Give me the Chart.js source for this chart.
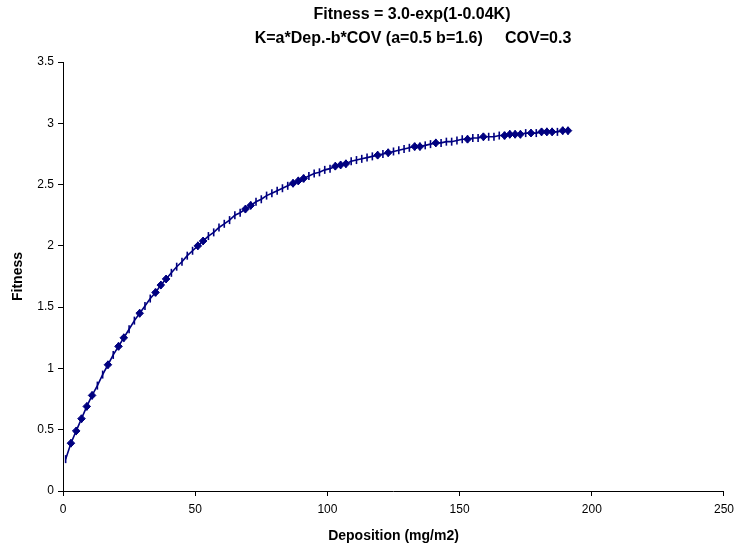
<!DOCTYPE html>
<html>
<head>
<meta charset="utf-8">
<script src="https://cdn.jsdelivr.net/npm/chart.js@4.4.0/dist/chart.umd.min.js"></script>
<style>
  body { margin: 0; background: #fff; }
  #wrap { width: 740px; height: 552px; }
</style>
</head>
<body>
<div id="wrap"><canvas id="fitChart" width="740" height="552"></canvas></div>
<script>
// curve drawn with short vertical bars, every 2 units of deposition
var curveDep = [1, 3, 5, 7, 9, 11, 13, 15, 17, 19, 21, 23, 25, 27, 29, 31, 33, 35, 37, 39,
    41, 43, 45, 47, 49, 51, 53, 55, 57, 59, 61, 63, 65, 67, 69, 71, 73, 75, 77, 79,
    81, 83, 85, 87, 89, 91, 93, 95, 97, 99, 101, 103, 105, 107, 109, 111, 113, 115, 117, 119,
    121, 123, 125, 127, 129, 131, 133, 135, 137, 139, 141, 143, 145, 147, 149, 151, 153, 155, 157, 159,
    161, 163, 165, 167, 169, 171, 173, 175, 177, 179, 181, 183, 185, 187, 189, 191];
var curveFit = [0.26, 0.39, 0.49, 0.59, 0.69, 0.78, 0.86, 0.95, 1.03, 1.11, 1.18, 1.25, 1.32, 1.39, 1.45, 1.51, 1.57, 1.62, 1.68, 1.73,
    1.78, 1.83, 1.87, 1.92, 1.96, 2.00, 2.04, 2.08, 2.11, 2.15, 2.18, 2.21, 2.25, 2.27, 2.30, 2.33, 2.36, 2.38, 2.41, 2.43,
    2.45, 2.47, 2.49, 2.51, 2.53, 2.55, 2.57, 2.59, 2.60, 2.62, 2.63, 2.65, 2.66, 2.67, 2.69, 2.70, 2.71, 2.72, 2.73, 2.74,
    2.75, 2.76, 2.77, 2.78, 2.79, 2.80, 2.81, 2.81, 2.82, 2.83, 2.84, 2.84, 2.85, 2.85, 2.86, 2.87, 2.87, 2.88, 2.88, 2.89,
    2.89, 2.89, 2.90, 2.90, 2.91, 2.91, 2.91, 2.92, 2.92, 2.92, 2.93, 2.93, 2.93, 2.93, 2.94, 2.94];

// diamond points
var pointDep = [3, 5, 7, 9, 11, 17, 21, 23, 29, 35, 37, 39, 51, 53, 69, 71, 87, 89, 91, 103,
    105, 107, 119, 123, 133, 135, 141, 153, 159, 167, 169, 171, 173, 177, 181, 183, 185, 189, 191];
var pointFit = [0.39, 0.49, 0.59, 0.69, 0.78, 1.03, 1.18, 1.25, 1.45, 1.62, 1.68, 1.73, 2.00, 2.04, 2.30, 2.33, 2.51, 2.53, 2.55, 2.65,
    2.66, 2.67, 2.74, 2.76, 2.81, 2.81, 2.84, 2.87, 2.89, 2.90, 2.91, 2.91, 2.91, 2.92, 2.93, 2.93, 2.93, 2.94, 2.94];

var xTicks = [0, 50, 100, 150, 200, 250];
var yTicks = [0, 0.5, 1, 1.5, 2, 2.5, 3, 3.5];

var titleLines = ['Fitness = 3.0-exp(1-0.04K)', 'K=a*Dep.-b*COV (a=0.5 b=1.6)     COV=0.3'];

function toXY(xs, ys) {
    return xs.map(function (x, i) { return { x: x, y: ys[i] }; });
}

var navy = '#000080';
var fontFam = '"Liberation Sans", Arial, sans-serif';

// two-line title, centred like the original
var titlePlugin = {
    id: 'twoLineTitle',
    afterDraw: function (chart) {
        var c = chart.ctx;
        c.save();
        c.fillStyle = '#000';
        c.font = 'bold 16px ' + fontFam;
        c.textAlign = 'center';
        c.textBaseline = 'middle';
        c.fillText(titleLines[0], 412, 15);
        c.fillText(titleLines[1], 413, 39);
        c.restore();
    }
};

var ctx = document.getElementById('fitChart').getContext('2d');
var fitChart = new Chart(ctx, {
    type: 'scatter',
    data: {
        datasets: [{
            label: 'points',
            data: toXY(pointDep, pointFit),
            showLine: false,
            pointStyle: 'rectRot',
            pointRadius: 3.8,
            pointBackgroundColor: navy,
            pointBorderColor: navy,
            pointBorderWidth: 1
        }, {
            label: 'curve',
            data: toXY(curveDep, curveFit),
            showLine: true,
            borderColor: navy,
            borderWidth: 1.6,
            pointStyle: 'line',
            rotation: 90,
            pointRadius: 4,
            pointBorderColor: navy,
            pointBorderWidth: 1.6
        }]
    },
    options: {
        responsive: false,
        animation: false,
        layout: { padding: { top: 62, right: 0, left: 6, bottom: 3 } },
        plugins: {
            legend: { display: false },
            tooltip: { enabled: false }
        },
        scales: {
            x: {
                type: 'linear',
                min: 0,
                max: 250,
                afterBuildTicks: function (s) { s.ticks = xTicks.map(function (v) { return { value: v }; }); },
                afterFit: function (s) { s.height = 58; },
                grid: { drawOnChartArea: false, drawTicks: true, tickLength: 5, color: '#000' },
                border: { color: '#000', width: 1 },
                ticks: { color: '#000', font: { size: 12, family: fontFam }, padding: 6 },
                title: { display: true, text: 'Deposition (mg/m2)', color: '#000', font: { size: 14, weight: 'bold', family: fontFam }, padding: { top: 14 } }
            },
            y: {
                min: 0,
                max: 3.5,
                afterBuildTicks: function (s) { s.ticks = yTicks.map(function (v) { return { value: v }; }); },
                afterFit: function (s) { s.width = 57; },
                grid: { drawOnChartArea: false, drawTicks: true, tickLength: 5, color: '#000' },
                border: { color: '#000', width: 1 },
                ticks: {
                    color: '#000', font: { size: 12, family: fontFam }, padding: 4,
                    callback: function (v) { return String(v); }
                },
                title: { display: true, text: 'Fitness', color: '#000', font: { size: 14, weight: 'bold', family: fontFam }, padding: { bottom: 6 } }
            }
        }
    },
    plugins: [titlePlugin]
});
</script>
</body>
</html>
